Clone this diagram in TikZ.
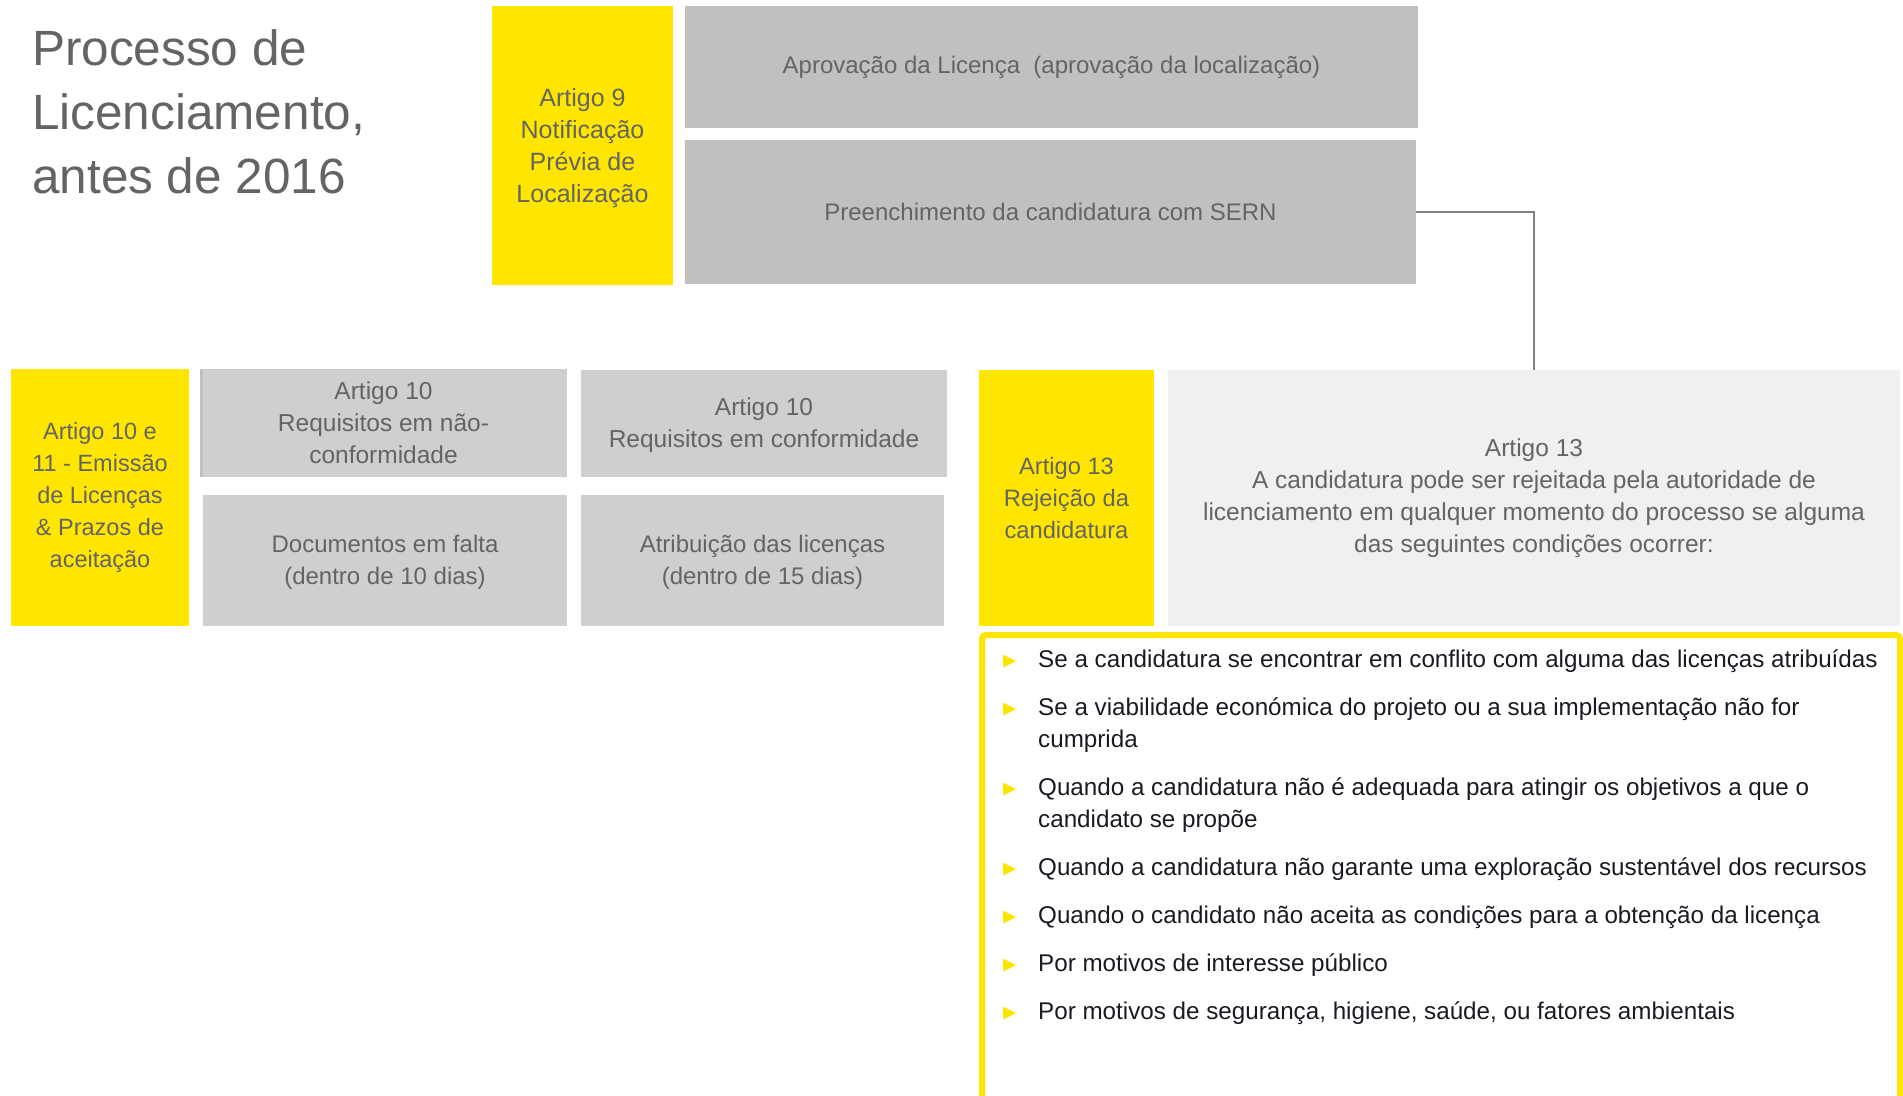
\documentclass[tikz,border=0pt]{standalone}
\usepackage{fontspec}
\setmainfont{Liberation Sans}
\usetikzlibrary{calc}

\definecolor{eyyellow}{HTML}{FFE600}
\definecolor{greyA}{HTML}{C0C0C0}
\definecolor{greyB}{HTML}{CFCFCF}
\definecolor{greyC}{HTML}{F0F0F0}
\definecolor{txtgrey}{HTML}{646464}
\definecolor{darktxt}{HTML}{1A1A24}
\definecolor{linegrey}{HTML}{808080}

% font at a given size, 32pt leading
\newcommand\lcSize[1]{\fontsize{#1}{32}\selectfont}
\newcommand\lcTitleFont{\fontsize{49.5}{64}\selectfont}

\begin{document}
\begin{tikzpicture}[x=1pt,y=-1pt,
  box/.style={rectangle, inner sep=0pt, align=center, text=txtgrey, font=\lcSize{24.5}},
  ybox/.style={box, fill=eyyellow},
  gbox/.style={box, fill=greyA},
  hbox/.style={box, fill=greyB},
  lbox/.style={box, fill=greyC},
  conn/.style={draw=linegrey, line width=2.7pt},
  cond/.style={anchor=north west, inner sep=0pt, align=left, text=darktxt, font=\lcSize{24.2}},
  bullet/.style={fill=eyyellow},
  frame/.style={draw=eyyellow, line width=6pt, rounded corners=4pt}
]
\useasboundingbox (0,0) rectangle (1903,1095);
\fill[white] (0,0) rectangle (1903,1095);
\clip (0,0) rectangle (1903,1095);

% title
\node[anchor=north west, inner sep=0pt, align=left, text=txtgrey, font=\lcTitleFont] (title) at (32,17)
  {\rule{0pt}{48pt}Processo de\\Licenciamento,\\antes de 2016};

% top row
\node[ybox, font=\lcSize{25}, minimum width=181, minimum height=279] (art9) at (582.5,145.5)
  {\rule{0pt}{24pt}Artigo 9\\Notificação\\Prévia de\\Localização};
\node[gbox, font=\lcSize{24}, minimum width=733, minimum height=122] (aprov) at (1051.5,67)
  {Aprovação da Licença \ (aprovação da localização)};
\node[gbox, font=\lcSize{24}, minimum width=731, minimum height=144] (preench) at (1050.5,212)
  {Preenchimento da candidatura com SERN};

% second row
\node[ybox, font=\lcSize{23.5}, minimum width=178, minimum height=257] (art1011) at (100,497.5)
  {Artigo 10 e\\11 - Emissão\\de Licenças\\\& Prazos de\\aceitação};
\node[hbox, minimum width=367, minimum height=108] (reqnao) at (383.5,423)
  {Artigo 10\\Requisitos em não-\\conformidade};
\fill[greyA] (reqnao.north west) rectangle ($(reqnao.south west)+(3,0)$);
\node[hbox, minimum width=366, minimum height=107] (reqsim) at (764,423.5)
  {\rule{0pt}{22pt}Artigo 10\\Requisitos em conformidade};
\node[hbox, font=\lcSize{24}, minimum width=364, minimum height=131] (docs) at (385,560.5)
  {\rule{0pt}{21pt}Documentos em falta\\(dentro de 10 dias)};
\node[hbox, font=\lcSize{24}, minimum width=363, minimum height=131] (atrib) at (762.5,560.5)
  {\rule{0pt}{21pt}Atribuição das licenças\\(dentro de 15 dias)};
\node[ybox, font=\lcSize{23.7}, minimum width=175, minimum height=256] (art13) at (1066.5,498)
  {Artigo 13\\Rejeição da\\candidatura};
\node[lbox, minimum width=732, minimum height=256] (art13txt) at (1534,498)
  {Artigo 13\\A candidatura pode ser rejeitada pela autoridade de\\licenciamento em qualquer momento do processo se alguma\\das seguintes condições ocorrer:};

% connector from the application step to article 13
\draw[conn] (preench.east) -| (art13txt.north);

% frame holding the rejection conditions
\draw[frame] (982,1120) |- (1900,635) -- (1900,1120);

\node[cond] (c1) at (1038,643) {\rule{0pt}{24pt}Se a candidatura se encontrar em conflito com alguma das licenças atribuídas};
\node[cond] (c2) at (1038,691) {\rule{0pt}{24pt}Se a viabilidade económica do projeto ou a sua implementação não for\\cumprida};
\node[cond] (c3) at (1038,771) {\rule{0pt}{24pt}Quando a candidatura não é adequada para atingir os objetivos a que o\\candidato se propõe};
\node[cond] (c4) at (1038,851) {\rule{0pt}{24pt}Quando a candidatura não garante uma exploração sustentável dos recursos};
\node[cond] (c5) at (1038,899) {\rule{0pt}{24pt}Quando o candidato não aceita as condições para a obtenção da licença};
\node[cond] (c6) at (1038,947) {\rule{0pt}{24pt}Por motivos de interesse público};
\node[cond] (c7) at (1038,995) {\rule{0pt}{24pt}Por motivos de segurança, higiene, saúde, ou fatores ambientais};

\foreach \n in {c1,c2,c3,c4,c5,c6,c7}
  \fill[bullet] ($(\n.north west)+(-35,11.5)$) -- ($(\n.north west)+(-22,18)$)
    -- ($(\n.north west)+(-35,24.5)$) -- cycle;
\end{tikzpicture}
\end{document}
